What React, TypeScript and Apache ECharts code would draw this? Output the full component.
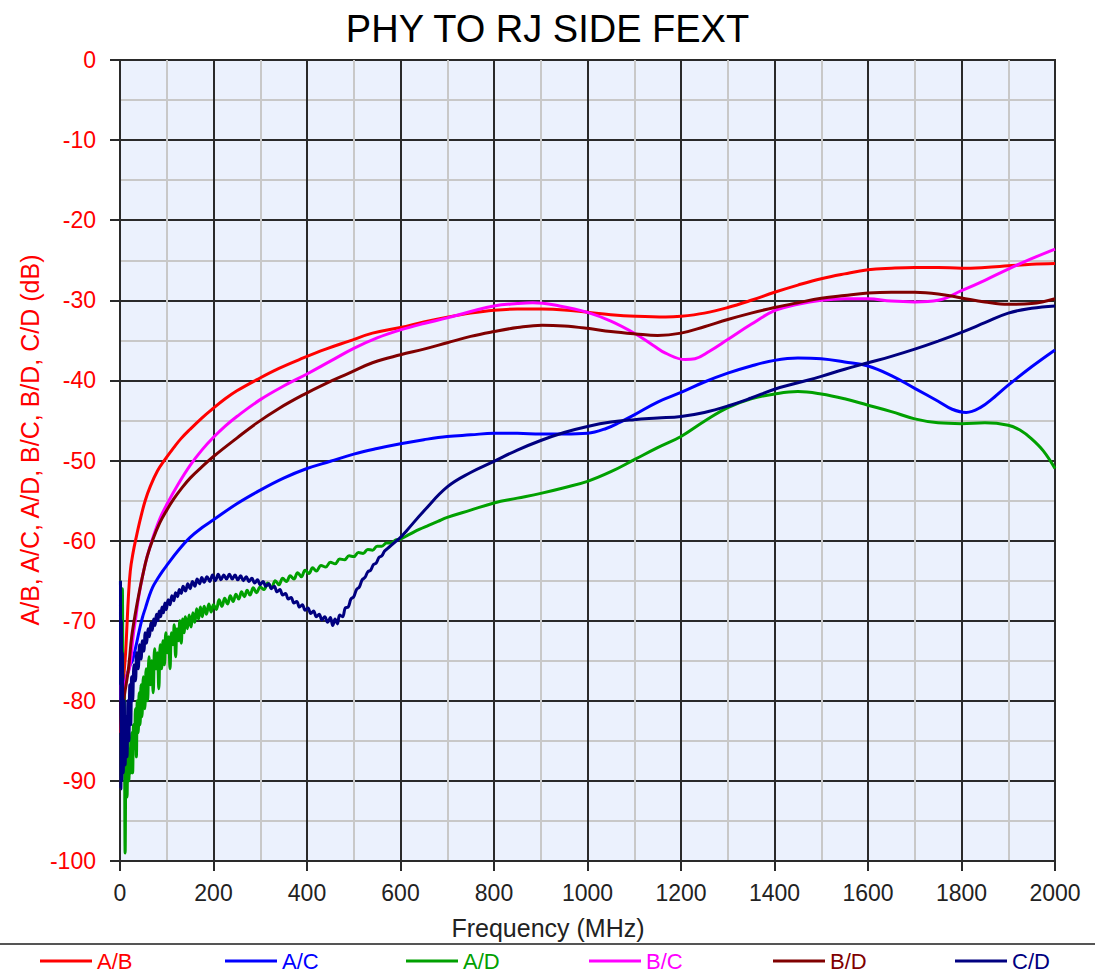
import React, { useEffect, useRef } from 'react';
import * as echarts from 'echarts';

const TITLE = 'PHY TO RJ SIDE FEXT';
const X_NAME = 'Frequency (MHz)';
const Y_NAME = 'A/B, A/C, A/D, B/C, B/D, C/D (dB)';

const SERIES_NAMES = ['A/B', 'A/C', 'A/D', 'B/C', 'B/D', 'C/D'];
const SERIES_COLORS = ['#ff0000', '#0000ff', '#00a000', '#ff00ff', '#800000', '#000080'];

type P = [number, number];

const AB: P[] = [
  [1, -84], [4, -80], [8, -77], [12, -74], [15, -70.5], [18, -67], [22, -63.8], [28, -61.5], [35, -59.5],
  [44, -57.2], [54, -55], [65, -53.2], [80, -51.3], [96, -49.9], [115, -48.4], [130, -47.3], [150, -46.1],
  [175, -44.7], [197, -43.6], [225, -42.3], [250, -41.3], [293, -39.9], [340, -38.5], [392, -37.2],
  [440, -36.1], [490, -35.1], [540, -34.1], [600, -33.4], [650, -32.7], [700, -32.1], [750, -31.6],
  [800, -31.25], [850, -31.1], [903, -31.1], [950, -31.2], [1000, -31.5], [1050, -31.8], [1103, -32.0],
  [1167, -32.1], [1200, -32.0], [1250, -31.6], [1300, -30.9], [1350, -30.0], [1400, -29.0], [1450, -28.1],
  [1500, -27.3], [1550, -26.7], [1600, -26.2], [1650, -26.0], [1700, -25.9], [1750, -25.9], [1800, -26.0],
  [1850, -25.9], [1900, -25.7], [1950, -25.5], [2000, -25.4],
];

const AC: P[] = [
  [1, -68], [3, -84], [6, -80], [10, -78], [14, -77], [18, -76.2], [22, -75.5], [27, -74.9], [34, -73.2],
  [41, -71.3], [48, -69.6], [55, -68.3], [62, -67], [70, -65.8], [80, -64.8], [90, -63.9], [100, -63.1],
  [125, -61.2], [150, -59.6], [175, -58.4], [200, -57.4], [250, -55.4], [300, -53.7], [350, -52.2],
  [400, -51.0], [450, -50.1], [500, -49.2], [550, -48.5], [600, -47.9], [650, -47.4], [700, -47.0],
  [750, -46.8], [800, -46.6], [850, -46.6], [900, -46.7], [950, -46.7], [1000, -46.6], [1040, -46.0],
  [1070, -45.2], [1100, -44.3], [1150, -42.7], [1200, -41.5], [1250, -40.2], [1300, -39.1], [1350, -38.2],
  [1400, -37.5], [1450, -37.2], [1500, -37.3], [1550, -37.7], [1600, -38.2], [1650, -39.4], [1700, -41.0],
  [1750, -42.6], [1780, -43.6], [1810, -44.0], [1840, -43.4], [1870, -42.1], [1900, -40.6], [1950, -38.3],
  [2000, -36.2],
];

const AD: P[] = [
  [1, -65], [3, -80], [5, -66], [7, -88], [9, -78], [11, -99], [13, -86], [15, -92], [17, -84], [19, -90],
  [21, -86], [23, -89], [25, -84], [27, -89], [29, -83], [31, -86], [33, -81], [35, -87], [37, -80],
  [39, -84], [41, -79], [43, -83], [45, -78], [47, -82], [50, -77], [53, -81], [56, -76], [59, -80],
  [62, -74.5], [65, -78], [68, -75], [71, -79], [74, -73.5], [77, -76], [80, -74], [83, -78.5], [86, -73],
  [89, -76], [92, -72.5], [95, -75.5], [98, -71.5], [101, -74], [104, -72], [107, -76], [110, -71.5],
  [113, -73], [116, -70.5], [119, -74.5], [122, -71], [125, -72.5], [128, -70], [131, -72.8], [134, -69.8],
  [137, -71.5], [140, -69.5], [144, -71], [148, -69.3], [152, -70.8], [156, -69], [160, -70.2],
  [164, -68.5], [168, -69.8], [172, -68.3], [176, -69.5], [180, -68.2], [185, -69.2], [190, -67.9],
  [195, -68.9], [200, -68], [206, -68.6], [212, -67.4], [218, -68.2], [224, -67.2], [230, -67.9],
  [236, -66.9], [242, -67.6], [248, -66.7], [254, -67.3], [260, -66.4], [266, -67], [272, -66.2],
  [278, -66.8], [285, -65.9], [292, -66.5], [300, -65.8], [308, -66.1], [316, -65.3], [324, -65.9],
  [332, -65], [340, -65.5], [348, -64.7], [356, -65.1], [364, -64.4], [372, -64.8], [380, -64],
  [388, -64.5], [396, -63.7], [404, -64.1], [412, -63.4], [420, -63.8], [430, -63.1], [440, -63.3],
  [450, -62.7], [460, -62.9], [470, -62.3], [480, -62.4], [490, -61.9], [500, -62], [510, -61.5],
  [520, -61.6], [530, -61.1], [540, -61.2], [550, -60.7], [560, -60.7], [570, -60.3], [580, -60.3],
  [590, -59.9], [600, -59.8], [620, -59.2], [640, -58.6], [660, -58.1], [680, -57.6], [700, -57.1],
  [750, -56.2], [800, -55.3], [850, -54.7], [900, -54.1], [950, -53.4], [1000, -52.6], [1050, -51.4],
  [1100, -49.9], [1150, -48.4], [1200, -47.0], [1250, -45.1], [1300, -43.4], [1350, -42.3], [1400, -41.7],
  [1450, -41.4], [1500, -41.7], [1550, -42.3], [1600, -43.1], [1650, -43.9], [1700, -44.8], [1750, -45.3],
  [1800, -45.4], [1850, -45.3], [1900, -45.6], [1925, -46.2], [1950, -47.3], [1975, -48.8], [2000, -51],
];

const BC: P[] = [
  [1, -78], [4, -82], [8, -79], [14, -77], [20, -76], [23, -74.9], [28, -72], [34, -69.5], [40, -67],
  [48, -64.5], [58, -62], [70, -59.7], [85, -57.3], [100, -55.5], [125, -52.9], [150, -50.6],
  [175, -48.7], [200, -47.1], [225, -45.7], [250, -44.5], [300, -42.4], [350, -40.7], [400, -39.2],
  [450, -37.6], [500, -36.0], [550, -34.7], [600, -33.7], [650, -32.9], [700, -32.2], [750, -31.4],
  [800, -30.7], [850, -30.4], [883, -30.3], [940, -30.7], [1000, -31.5], [1050, -32.6], [1103, -34.2],
  [1140, -35.6], [1167, -36.6], [1209, -37.4], [1230, -37.3], [1260, -36.4], [1300, -34.9], [1350, -33.0],
  [1400, -31.3], [1450, -30.5], [1500, -30.0], [1550, -29.8], [1600, -29.8], [1650, -30.1], [1700, -30.2],
  [1750, -30.0], [1800, -28.8], [1850, -27.5], [1900, -26.1], [1950, -24.8], [2000, -23.6],
];

const BD: P[] = [
  [1, -80], [4, -84], [8, -80], [13, -78], [17, -76.5], [20, -75], [25, -72], [34, -68.7], [41, -66.5],
  [48, -64.5], [58, -62], [70, -59.9], [85, -57.8], [100, -56.2], [115, -54.8], [130, -53.6],
  [150, -52.2], [175, -50.8], [200, -49.5], [250, -47.2], [293, -45.3], [340, -43.5], [392, -41.8],
  [440, -40.4], [490, -39.1], [540, -37.8], [600, -36.8], [650, -36.1], [700, -35.3], [750, -34.5],
  [800, -33.9], [850, -33.4], [903, -33.1], [950, -33.2], [1000, -33.5], [1050, -33.9], [1103, -34.2],
  [1150, -34.4], [1200, -34.1], [1250, -33.3], [1300, -32.4], [1350, -31.6], [1400, -30.9], [1450, -30.3],
  [1500, -29.75], [1550, -29.4], [1600, -29.1], [1650, -29.0], [1700, -29.0], [1750, -29.2], [1800, -29.7],
  [1850, -30.2], [1900, -30.5], [1950, -30.4], [2000, -29.8],
];

const CD: P[] = [
  [1, -65], [2, -91], [3, -70], [4, -90], [5, -74], [7, -89], [9, -80], [11, -88], [13, -82], [15, -87],
  [17, -80], [19, -85], [21, -78], [23, -83], [25, -77], [27, -80], [30, -75.5], [33, -77.5], [36, -74],
  [39, -76], [42, -73], [45, -74.8], [48, -72.5], [51, -73.8], [54, -71.5], [57, -72.8], [60, -71],
  [63, -72], [66, -70.3], [69, -71.2], [72, -69.8], [75, -70.6], [78, -69.2], [81, -70], [84, -68.8],
  [87, -69.5], [90, -68.3], [93, -69], [96, -67.8], [99, -68.6], [103, -67.4], [107, -68], [111, -66.9],
  [115, -67.5], [119, -66.5], [123, -67], [127, -66.1], [131, -66.6], [135, -65.7], [140, -66.3],
  [145, -65.4], [150, -66], [155, -65.1], [160, -65.7], [165, -64.8], [170, -65.4], [175, -64.6],
  [180, -65.2], [186, -64.5], [192, -65.1], [198, -64.3], [204, -65], [210, -64.2], [216, -64.9],
  [222, -64.3], [228, -64.8], [234, -64.2], [240, -64.8], [246, -64.3], [252, -64.9], [258, -64.4],
  [264, -65], [270, -64.5], [276, -65.1], [282, -64.7], [288, -65.3], [294, -64.9], [300, -65.5],
  [306, -65.1], [312, -65.7], [318, -65.4], [324, -66], [330, -65.7], [336, -66.4], [342, -66.1],
  [348, -66.8], [354, -66.6], [360, -67.3], [366, -67.1], [372, -67.8], [378, -67.6], [384, -68.3],
  [390, -68], [396, -68.7], [402, -68.4], [408, -69.1], [414, -68.8], [420, -69.5], [426, -69.2],
  [432, -69.9], [438, -69.5], [444, -70.2], [450, -69.6], [455, -70.6], [460, -69.8], [465, -70.4],
  [470, -69.3], [476, -69.5], [482, -68.4], [488, -68.3], [494, -67.3], [500, -67], [506, -66.1],
  [512, -65.8], [518, -64.9], [524, -64.6], [530, -63.9], [536, -63.7], [542, -63], [548, -62.8],
  [554, -62.1], [560, -61.9], [566, -61.3], [572, -61], [580, -60.6], [590, -60.1], [600, -59.6],
  [614, -58.7], [650, -56.3], [700, -53.3], [750, -51.5], [800, -50.1], [850, -48.7], [900, -47.5],
  [950, -46.5], [1000, -45.75], [1050, -45.2], [1100, -44.9], [1150, -44.7], [1200, -44.5], [1250, -44.0],
  [1300, -43.2], [1350, -42.2], [1400, -41.1], [1450, -40.3], [1500, -39.5], [1550, -38.6], [1600, -37.8],
  [1650, -37.0], [1700, -36.1], [1750, -35.1], [1800, -34.0], [1850, -32.8], [1900, -31.6], [1950, -31.0],
  [2000, -30.7],
];

const SERIES_DATA: P[][] = [AB, AC, AD, BC, BD, CD];
const LEGEND_LEFT = [40, 225, 406, 589, 773, 955];

const FONT = '"Liberation Sans", Arial, sans-serif';
const MAJOR = '#2a2a2a';
const MINOR = '#c8c8c8';

export default function App() {
  const ref = useRef<HTMLDivElement>(null);
  useEffect(() => {
    if (!ref.current) return;
    const chart = echarts.init(ref.current, null, { renderer: 'svg' });
    const option: any = {
      animation: false,
      backgroundColor: '#ffffff',
      textStyle: { fontFamily: FONT },
      title: {
        text: TITLE,
        left: 'center',
        top: 5,
        textStyle: { fontFamily: FONT, fontSize: 38, fontWeight: 'normal', color: '#000' },
      },
      grid: {
        left: 120,
        top: 60,
        width: 935,
        height: 801,
        show: true,
        backgroundColor: '#ebf1fd',
        borderColor: MAJOR,
        borderWidth: 2,
      },
      xAxis: {
        type: 'value',
        min: 0,
        max: 2000,
        interval: 200,
        axisLine: { show: true, onZero: false, lineStyle: { color: MAJOR, width: 2 } },
        axisTick: { show: true, length: 10, lineStyle: { color: MAJOR, width: 2 } },
        axisLabel: {
          color: '#222',
          fontSize: 23,
          margin: 20,
          fontFamily: FONT,
          formatter: (v: number) => String(v),
        },
        splitLine: { show: true, lineStyle: { color: MAJOR, width: 2 } },
        minorTick: { show: false, splitNumber: 2 },
        minorSplitLine: { show: true, lineStyle: { color: MINOR, width: 2 } },
      },
      yAxis: {
        type: 'value',
        min: -100,
        max: 0,
        interval: 10,
        axisLine: { show: true, onZero: false, lineStyle: { color: MAJOR, width: 2 } },
        axisTick: { show: true, length: 10, lineStyle: { color: MAJOR, width: 2 } },
        axisLabel: {
          color: '#ff0000',
          fontSize: 23,
          margin: 24,
          fontFamily: FONT,
          formatter: (v: number) => String(v),
        },
        splitLine: { show: true, lineStyle: { color: MAJOR, width: 2 } },
        minorTick: { show: false, splitNumber: 2 },
        minorSplitLine: { show: true, lineStyle: { color: MINOR, width: 2 } },
      },
      legend: SERIES_NAMES.map((name, i) => ({
        data: [{ name, textStyle: { color: SERIES_COLORS[i] } }],
        left: LEGEND_LEFT[i],
        top: 950,
        icon: 'rect',
        itemWidth: 52,
        itemHeight: 3,
        itemGap: 0,
        padding: 0,
        textStyle: { fontSize: 22, fontFamily: FONT, color: SERIES_COLORS[i] },
      })),
      graphic: [
        {
          type: 'line',
          shape: { x1: 0, y1: 944, x2: 1095, y2: 944 },
          style: { stroke: '#555', lineWidth: 2 },
        },
        {
          type: 'text',
          x: 548,
          y: 928,
          style: {
            text: X_NAME,
            fill: '#222',
            font: `25px ${FONT}`,
            textAlign: 'center',
            textVerticalAlign: 'middle',
          },
        },
        {
          type: 'text',
          x: 30,
          y: 440,
          rotation: Math.PI / 2,
          style: {
            text: Y_NAME,
            fill: '#ff0000',
            font: `25px ${FONT}`,
            textAlign: 'center',
            textVerticalAlign: 'middle',
          },
        },
      ],
      series: SERIES_NAMES.map((name, i) => ({
        name,
        type: 'line',
        data: SERIES_DATA[i],
        showSymbol: false,
        symbol: 'none',
        smooth: 0.4,
        color: SERIES_COLORS[i],
        lineStyle: { color: SERIES_COLORS[i], width: 3 },
        emphasis: { disabled: true },
      })),
    };
    chart.setOption(option);
    return () => chart.dispose();
  }, []);
  return (
    <div
      ref={ref}
      style={{ position: 'fixed', left: 0, top: 0, width: 1095, height: 973 }}
    />
  );
}
